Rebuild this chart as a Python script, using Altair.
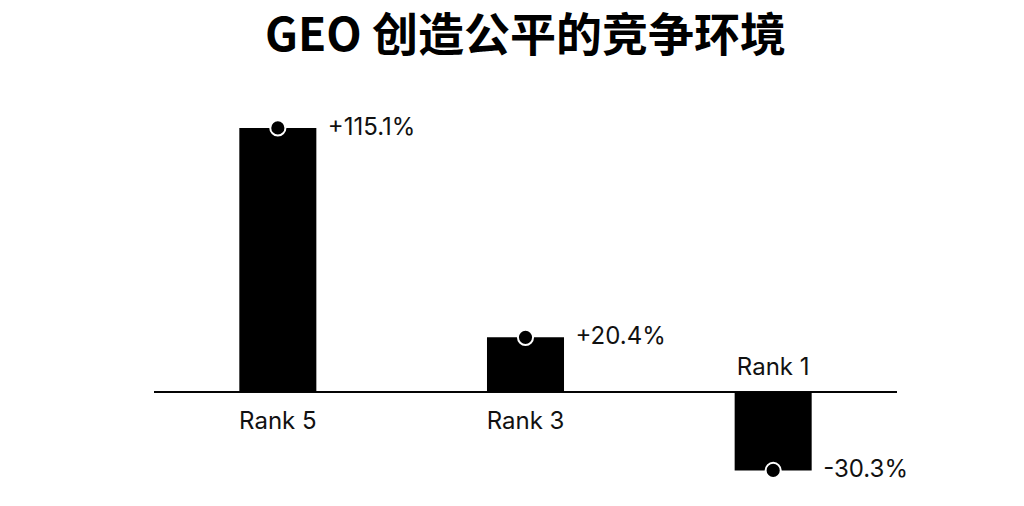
import altair as alt
import pandas as pd

ranks = ["Rank 5", "Rank 3", "Rank 1"]
values = [115.1, 20.4, -30.3]
value_labels = ["+115.1%", "+20.4%", "-30.3%"]

df = pd.DataFrame({"rank": ranks, "value": values, "vlabel": value_labels})
df["zero"] = 0.0

W, H = 743, 396

x_enc = alt.X("rank:N", sort=ranks,
              scale=alt.Scale(paddingInner=0.689, paddingOuter=0.3445),
              axis=None)
y_scale = alt.Scale(type="pow", exponent=0.91, domain=[-40, 130], nice=False)
y_enc = alt.Y("value:Q", scale=y_scale, axis=None)
y_zero = alt.Y("zero:Q", scale=y_scale, axis=None)

base = alt.Chart(df)

bars = base.mark_bar(color="black").encode(x=x_enc, y=y_enc, y2="zero:Q")

zero_line = base.mark_rule(color="black", strokeWidth=1.5).encode(
    x=alt.value(0), x2=alt.value(W), y=y_zero
)

dots = base.mark_point(filled=True, fill="black", stroke="white",
                       strokeWidth=2, size=230, opacity=1, shape="circle").encode(
    x=x_enc, y=y_enc
)

val_text = base.mark_text(align="left", baseline="middle", dx=50,
                          font="Inter", fontSize=24, color="#111").encode(
    x=x_enc, y=y_enc, text="vlabel:N"
)

rank_pos = base.transform_filter("datum.value >= 0").mark_text(
    align="center", baseline="alphabetic", dy=37,
    font="Inter", fontSize=24, color="#111").encode(
    x=x_enc, y=y_zero, text="rank:N"
)
rank_neg = base.transform_filter("datum.value < 0").mark_text(
    align="center", baseline="alphabetic", dy=-17,
    font="Inter", fontSize=24, color="#111").encode(
    x=x_enc, y=y_zero, text="rank:N"
)

chart = alt.layer(bars, zero_line, dots, val_text, rank_pos, rank_neg).properties(
    width=W, height=H,
    title=alt.TitleParams("GEO 创造公平的竞争环境", font="Noto Sans CJK SC",
                          fontSize=46, fontWeight="bold", anchor="middle",
                          baseline="alphabetic", offset=0, color="black"),
    autosize=alt.AutoSizeParams(type="none"),
    padding={"left": 146, "top": 89, "right": 100, "bottom": 5},
    background="white",
).configure_view(stroke=None)

chart.save("out.html", embed_options={"renderer": "svg", "actions": False})
